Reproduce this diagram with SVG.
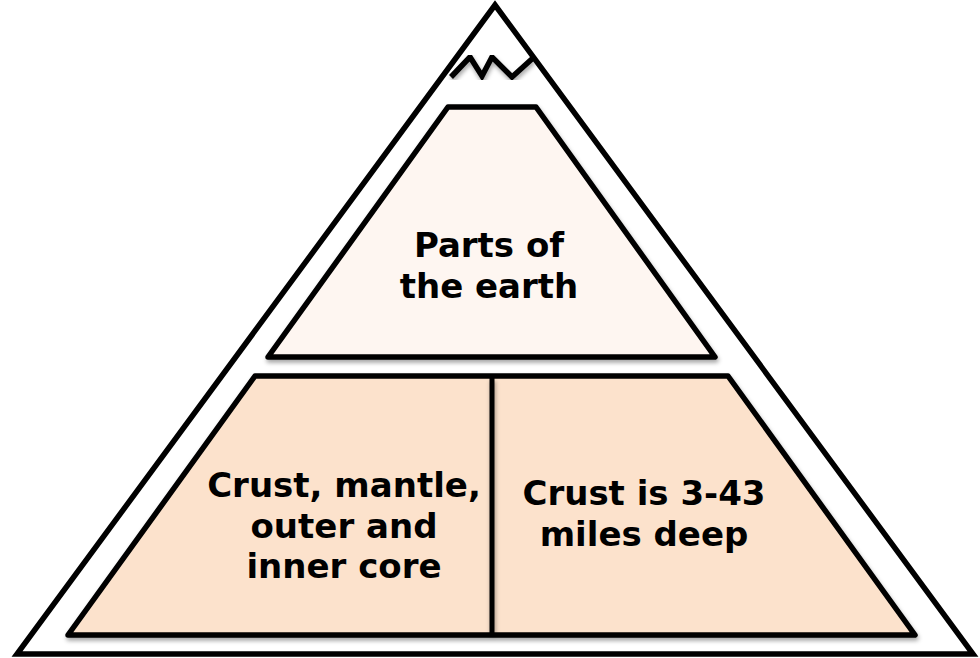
<svg xmlns="http://www.w3.org/2000/svg" width="980" height="658" viewBox="0 0 980 658">
  <defs>
    <filter id="sh" x="-10%" y="-10%" width="120%" height="125%">
      <feDropShadow dx="1" dy="3" stdDeviation="2" flood-color="#000" flood-opacity="0.35"/>
    </filter>
    <filter id="shl" filterUnits="userSpaceOnUse" x="480" y="370" width="30" height="275">
      <feDropShadow dx="1" dy="3" stdDeviation="2" flood-color="#000" flood-opacity="0.35"/>
    </filter>
    <style>
      .outline { fill: #FFFFFF; stroke: #000; stroke-width: 5.5; stroke-linejoin: miter; }
      .box { stroke: #000; stroke-width: 5.5; stroke-linejoin: round; filter: url(#sh); }
      .top { fill: #FEF6F1; }
      .low { fill: #FCE2CC; }
      .lbl { font-family: "DejaVu Sans", Verdana, sans-serif; font-weight: bold; font-size: 34px; fill: #000; text-anchor: middle; }
      .snow { fill: none; stroke: #000; stroke-width: 5.5; stroke-linejoin: miter; filter: url(#sh); }
    </style>
  </defs>

  <g id="mountain">
    <polygon class="outline" points="495,5 973,654 17,654"/>
    <polyline class="snow" points="451,77 470,57 482,76 492,57 512,77 533,58"/>
  </g>

  <g id="node-top">
    <polygon class="box top" points="448,107 536,107 715,357 268,357"/>
    <text class="lbl" x="489" y="257">Parts of</text>
    <text class="lbl" x="489" y="298">the earth</text>
  </g>

  <g id="node-bottom">
    <polygon class="box low" points="255,376 728,376 915,635 68,635"/>
  </g>

  <g id="connectors">
    <line x1="492" y1="378" x2="492" y2="633" stroke="#000" stroke-width="5" filter="url(#shl)"/>
  </g>

  <g id="node-left">
    <text class="lbl" x="344" y="497">Crust, mantle,</text>
    <text class="lbl" x="344" y="538">outer and</text>
    <text class="lbl" x="344" y="578">inner core</text>
  </g>

  <g id="node-right">
    <text class="lbl" x="644" y="505">Crust is 3-43</text>
    <text class="lbl" x="644" y="546">miles deep</text>
  </g>
</svg>
